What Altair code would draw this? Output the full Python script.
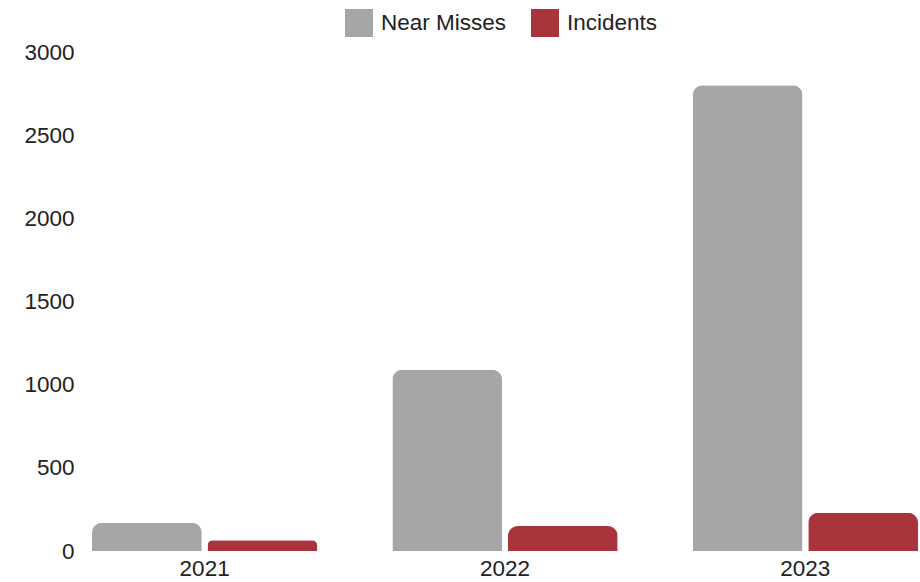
import altair as alt
import pandas as pd

years = ["2021", "2022", "2023"]
near_misses = [170, 1090, 2800]
incidents = [65, 150, 230]
series = ["Near Misses", "Incidents"]
colors = ["#a6a6a6", "#aa343b"]
y_ticks = [0, 500, 1000, 1500, 2000, 2500, 3000]

rows = []
for i, y in enumerate(years):
    rows.append({"Year": y, "Series": series[0], "Value": near_misses[i]})
    rows.append({"Year": y, "Series": series[1], "Value": incidents[i]})
df = pd.DataFrame(rows)

FONT = "Liberation Sans"
FS = 22.5

chart = alt.Chart(df).mark_bar(
    cornerRadiusTopLeft=10, cornerRadiusTopRight=10
).encode(
    x=alt.X("Year:N", sort=years, title=None,
            scale=alt.Scale(paddingInner=0.25, paddingOuter=0),
            axis=alt.Axis(labelAngle=0, domain=False, ticks=False, tickSize=0,
                          labelPadding=6, labelFontSize=FS, labelFont=FONT,
                          labelColor="#222222")),
    xOffset=alt.XOffset("Series:N", sort=series,
                        scale=alt.Scale(paddingInner=0.05, paddingOuter=0)),
    y=alt.Y("Value:Q", title=None,
            scale=alt.Scale(domain=[0, 3000], nice=False),
            axis=alt.Axis(values=y_ticks, format="d", grid=False, domain=False,
                          ticks=False, tickSize=0, labelPadding=18,
                          labelFontSize=FS, labelFont=FONT, labelColor="#222222")),
    color=alt.Color("Series:N", sort=series,
                    scale=alt.Scale(domain=series, range=colors),
                    legend=alt.Legend(title=None, orient="none", direction="horizontal",
                                      legendX=253, legendY=-43,
                                      symbolType="square", symbolSize=784,
                                      symbolStrokeWidth=0, labelFontSize=FS,
                                      labelFont=FONT, labelColor="#222222",
                                      labelOffset=8, columnPadding=24)),
).properties(
    width=826, height=499,
    autosize=alt.AutoSizeParams(type="none"),
    padding={"left": 92, "top": 52, "right": 2, "bottom": 31},
).configure_view(stroke=None)

chart.save("out.html", embed_options={"renderer": "svg", "actions": False})
